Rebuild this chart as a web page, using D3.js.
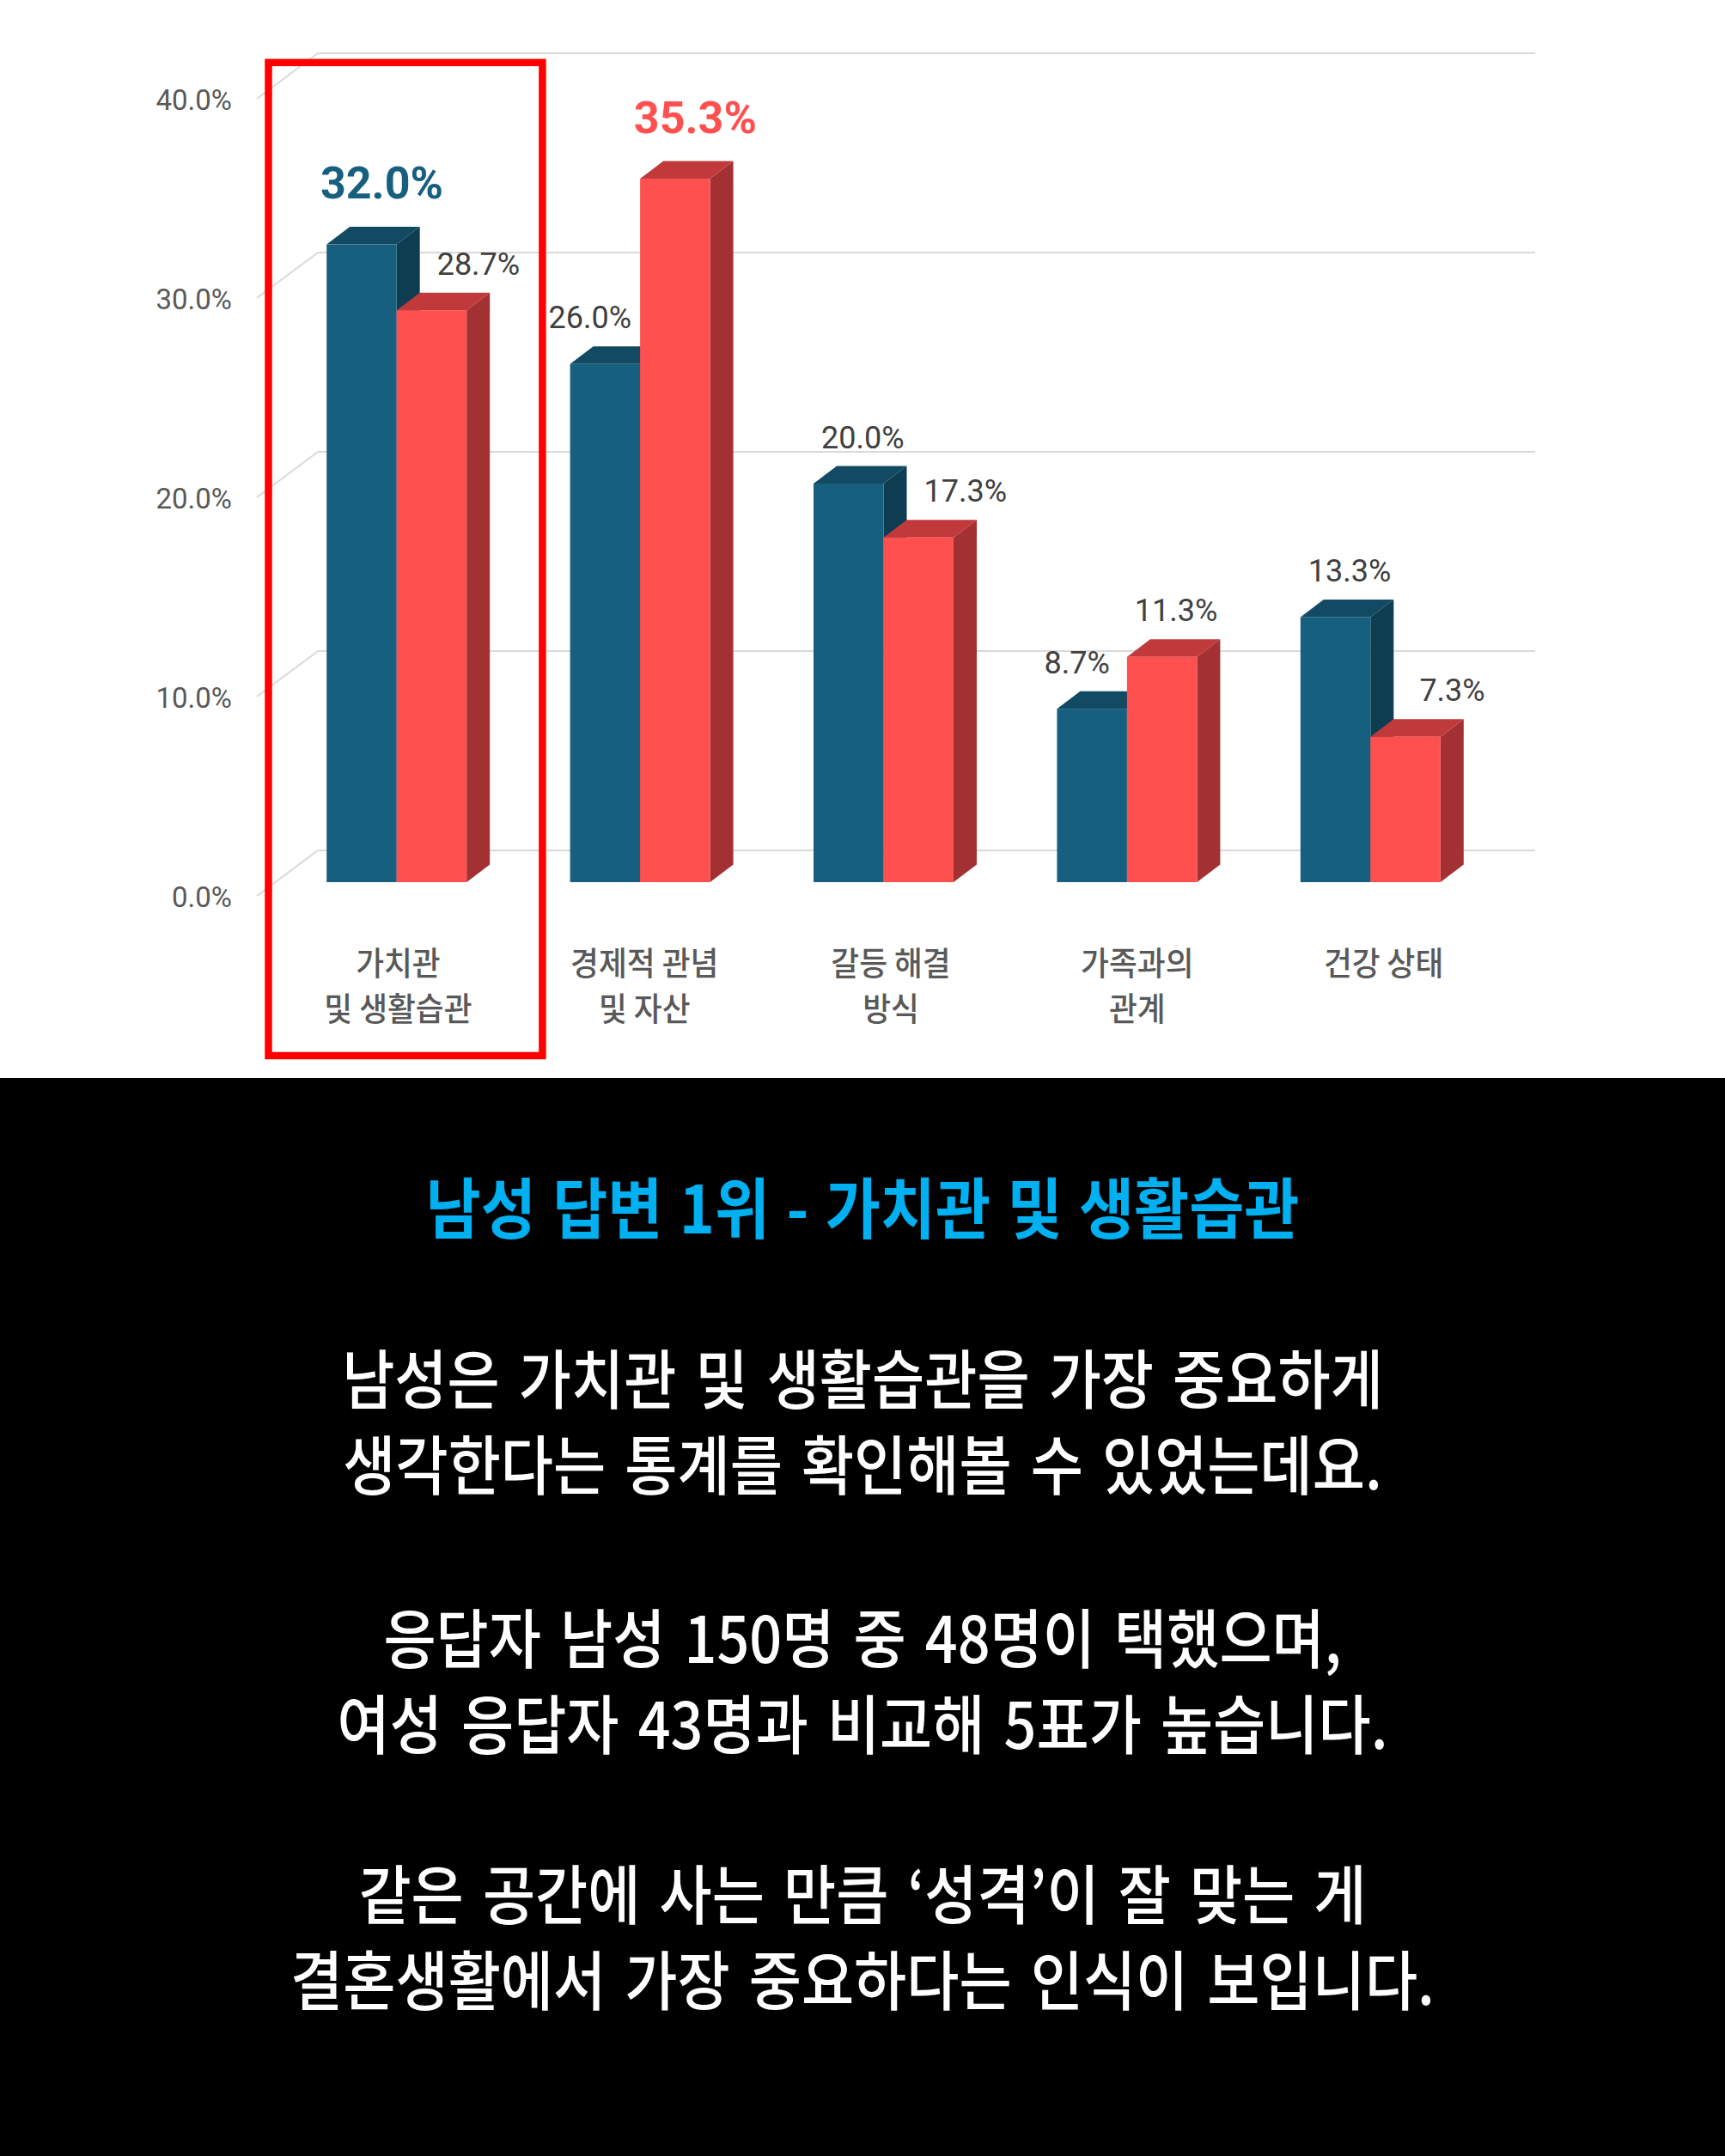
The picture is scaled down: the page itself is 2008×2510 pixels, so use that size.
<!DOCTYPE html>
<html><head><meta charset="utf-8">
<script src="https://cdn.jsdelivr.net/npm/d3@7"></script>
<style>html,body{margin:0;padding:0;background:#fff;overflow:hidden}</style>
</head><body><svg id="c" width="2008" height="2510"></svg>
<script>
// ---- data ----
const categories = [["가치관","및 생활습관"],["경제적 관념","및 자산"],["갈등 해결","방식"],["가족과의","관계"],["건강 상태"]];
const seriesNames = ["남성","여성"];
const maleValues = [32.0, 26.0, 20.0, 8.7, 13.3];
const femaleValues = [28.7, 35.3, 17.3, 11.3, 7.3];
const yTickValues = [0, 10, 20, 30, 40];
const highlightCategory = 0;
const titleText = "남성 답변 1위 - 가치관 및 생활습관";
const bodyParagraphs = [
  ["남성은 가치관 및 생활습관을 가장 중요하게", "생각한다는 통계를 확인해볼 수 있었는데요."],
  ["응답자 남성 150명 중 48명이 택했으며,", "여성 응답자 43명과 비교해 5표가 높습니다."],
  ["같은 공간에 사는 만큼 ‘성격’이 잘 맞는 게", "결혼생활에서 가장 중요하다는 인식이 보입니다."]
];

// ---- styles ----
const blue = {front:"#175F7F", top:"#124A63", side:"#0E3C50"};
const red = {front:"#FF5050", top:"#C0393B", side:"#A33033"};
const seriesColors = [blue, red];
const KR = "'Noto Sans CJK KR','Noto Sans',sans-serif";
const NUM = "Roboto,'Noto Sans',sans-serif";

const svg = d3.select("#c");
svg.append("rect").attr("x",0).attr("y",0).attr("width",2008).attr("height",1255).attr("fill","#fff");
svg.append("rect").attr("x",0).attr("y",1255).attr("width",2008).attr("height",1255).attr("fill","#000");

// ---- scales ----
const y = d3.scaleLinear().domain([0,40]).range([1027, 1027-928]);
const x0 = d3.scaleBand().domain(d3.range(categories.length)).range([320,1737]);
const x1 = d3.scaleBand().domain(d3.range(seriesNames.length)).range([0, x0.bandwidth()]).paddingOuter(0.739);
const xLabel = d3.scaleBand().domain(d3.range(categories.length)).range([318,1752]);
const DX = 27, DY = 20.5;   // bar depth
const BX = 50, BY = 37;     // bar front plane -> back wall
const FX = 71, FY = 53;     // floor depth

// ---- grid ----
const grid = svg.append("g");
yTickValues.forEach(t => {
  const yb = y(t) - BY;
  const xl = x0.range()[0] + BX, xr = x0.range()[1] + BX;
  grid.append("line").attr("x1", xl).attr("x2", xr).attr("y1", yb).attr("y2", yb)
    .attr("stroke","#d9d9d9").attr("stroke-width",2);
  grid.append("line").attr("x1", xl).attr("y1", yb).attr("x2", xl - FX).attr("y2", yb + FY)
    .attr("stroke","#d9d9d9").attr("stroke-width",2);
  grid.append("text").attr("x", 270).attr("y", yb + FY + 13).attr("text-anchor","end")
    .attr("font-family", NUM).attr("font-size", 33).attr("fill","#595959")
    .text(d3.format(".1f")(t) + "%");
});

// ---- bars ----
const values = [maleValues, femaleValues];
const maxIdx = values.map(v => d3.maxIndex(v));
const bars = svg.append("g");
const labels = svg.append("g");
categories.forEach((c, i) => {
  values.forEach((vals, s) => {
    const v = vals[i];
    const xf = x0(i) + x1(s), w = x1.bandwidth();
    const yt = y(v), yb0 = y(0);
    const col = seriesColors[s];
    bars.append("polygon").attr("fill", col.side)
      .attr("points", [[xf+w,yt],[xf+w+DX,yt-DY],[xf+w+DX,yb0-DY],[xf+w,yb0]].join(" "));
    bars.append("polygon").attr("fill", col.top)
      .attr("points", [[xf,yt],[xf+DX,yt-DY],[xf+w+DX,yt-DY],[xf+w,yt]].join(" "));
    bars.append("rect").attr("x", xf).attr("y", yt).attr("width", w).attr("height", yb0 - yt).attr("fill", col.front);
    // label
    const other = values[1 - s][i];
    const isMax = maxIdx[s] === i;
    let shift = isMax ? 10 : 3;
    if (v < other) shift += s === 0 ? -34 : 38;
    const t = labels.append("text")
      .attr("x", xf + w/2 + DX/2 + shift)
      .attr("y", yt - DY - (isMax ? 33 : 21))
      .attr("text-anchor","middle").attr("font-family", NUM)
      .text(d3.format(".1f")(v) + "%");
    if (isMax) t.attr("font-size", 52).attr("font-weight", 700).attr("fill", col.front);
    else t.attr("font-size", 36).attr("fill", "#404040");
  });
});

// ---- category labels ----
const cat = svg.append("g");
categories.forEach((lines, i) => {
  lines.forEach((ln, k) => {
    cat.append("g").attr("transform", `translate(${xLabel(i) + xLabel.bandwidth()/2 + 2},${1135 + k*53}) scale(0.94,1)`)
      .append("text").attr("text-anchor","middle").attr("font-family", KR)
      .attr("font-size", 38).attr("font-weight", 500).attr("fill","#595959").text(ln);
  });
});

// ---- highlight box ----
const hb = x0(highlightCategory);
svg.append("rect").attr("x", hb - 7.5).attr("y", 72.8)
  .attr("width", x0.bandwidth() + 35.5).attr("height", 1229 - 72.8)
  .attr("fill","none").attr("stroke","#ff0000").attr("stroke-width", 8.5);

// ---- text panel ----
svg.append("g").attr("transform","translate(1004,1436) scale(0.905,1)")
  .append("text").attr("text-anchor","middle").attr("font-family", KR)
  .attr("font-size", 77).attr("font-weight", 700).attr("fill","#00B0F0")
  .attr("word-spacing", 4).text(titleText);

const baselines = [[1634,1734],[1936,2036],[2234,2334]];
bodyParagraphs.forEach((p, pi) => {
  p.forEach((ln, li) => {
    svg.append("g").attr("transform", `translate(1004,${baselines[pi][li]}) scale(0.887,1)`)
      .append("text").attr("text-anchor","middle").attr("font-family", KR)
      .attr("font-size", 75).attr("font-weight", 500).attr("fill","#fff").attr("word-spacing", 8).text(ln);
  });
});
</script></body></html>
